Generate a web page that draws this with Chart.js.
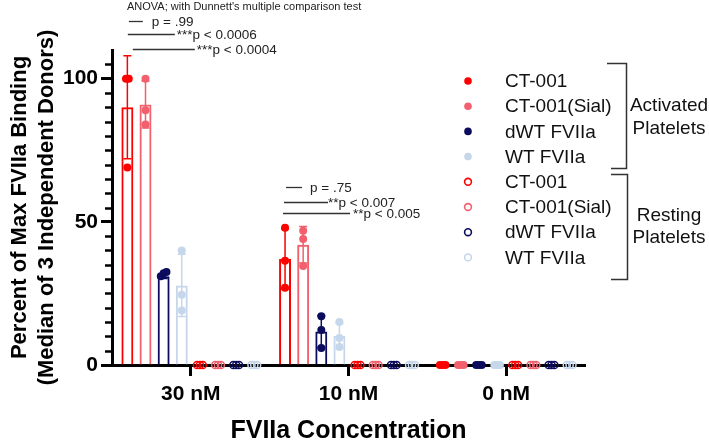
<!DOCTYPE html>
<html>
<head>
<meta charset="utf-8">
<script src="https://cdn.jsdelivr.net/npm/chart.js@4.4.1/dist/chart.umd.min.js"></script>
<style>
html,body{margin:0;padding:0;background:#fff;}
#wrap{width:709px;height:444px;}
</style>
</head>
<body>
<div id="wrap"><canvas id="c" width="709" height="444"></canvas></div>
<script>
// ---------------- DATA ----------------
const categories = ['30 nM', '10 nM', '0 nM'];
const seriesNames = ['CT-001', 'CT-001(Sial)', 'dWT FVIIa', 'WT FVIIa'];
const groupNames = ['Activated Platelets', 'Resting Platelets'];
const yTickLabels = [0, 50, 100];

// Activated platelets: bar heights
const actCT001 = [90, 37, 0];
const actSial  = [91, 42, 0];
const actDWT   = [31, 11.7, 0];
const actWT    = [27.8, 10.2, 0];
// Activated platelets: error bar half-lengths
const errCT001 = [18, 10.5, 0];
const errSial  = [8.2, 6.4, 0];
const errDWT   = [0.8, 5.6, 0];
const errWT    = [10.9, 4.4, 0];
// Activated platelets: individual donors
const ptsCT001 = [[100, 100, 69], [47.9, 36.4, 27], [0, 0, 0]];
const ptsSial  = [[100, 89, 84], [46.9, 44, 34.6], [0, 0, 0]];
const ptsDWT   = [[31, 32, 32.5], [17, 12.2, 5.9], [0, 0, 0]];
const ptsWT    = [[40, 24.5, 19], [15, 9.4, 6.3], [0, 0, 0]];

// Resting platelets: bar heights, errors, donors
const restCT001 = [0, 0, 0];
const restSial  = [0, 0, 0];
const restDWT   = [0, 0, 0];
const restWT    = [0, 0, 0];
const restErr   = [0, 0, 0];
const ptsRestCT001 = [[0, 0, 0], [0, 0, 0], [0, 0, 0]];
const ptsRestSial  = [[0, 0, 0], [0, 0, 0], [0, 0, 0]];
const ptsRestDWT   = [[0, 0, 0], [0, 0, 0], [0, 0, 0]];
const ptsRestWT    = [[0, 0, 0], [0, 0, 0], [0, 0, 0]];

// significance annotations (text)
const sig30 = ['p = .99', '***p < 0.0006', '***p < 0.0004'];
const sig10 = ['p = .75', '**p < 0.007', '**p < 0.005'];
const noteText = "ANOVA; with Dunnett's multiple comparison test";

// ---------------- STYLE ----------------
const FONT = "'Liberation Sans', Arial, Helvetica, sans-serif";
const seriesColors = ['#FF0000', '#F2606E', '#0C0C5E', '#C6D7EB'];

const actValues = [actCT001, actSial, actDWT, actWT];
const actErrs = [errCT001, errSial, errDWT, errWT];
const actPts = [ptsCT001, ptsSial, ptsDWT, ptsWT];
const restValues = [restCT001, restSial, restDWT, restWT];
const restPts = [ptsRestCT001, ptsRestSial, ptsRestDWT, ptsRestWT];

const datasets = [];
seriesNames.forEach((n, i) => datasets.push({
  label: n, group: 0, hollow: false, data: actValues[i], errors: actErrs[i], points: actPts[i],
  dotColor: seriesColors[i], borderColor: seriesColors[i], backgroundColor: 'rgba(0,0,0,0)',
  borderWidth: c => (c.raw > 0 ? 2 : 0), borderSkipped: 'start'
}));
seriesNames.forEach((n, i) => datasets.push({
  label: n, group: 1, hollow: true, data: restValues[i], errors: restErr, points: restPts[i],
  dotColor: seriesColors[i], borderColor: seriesColors[i], backgroundColor: 'rgba(0,0,0,0)',
  borderWidth: 0, borderSkipped: 'start'
}));

// Error bars + individual points
const overlay = {
  id: 'overlay',
  afterDatasetsDraw(chart) {
    const ctx = chart.ctx, ys = chart.scales.y;
    chart.data.datasets.forEach((ds, i) => {
      const meta = chart.getDatasetMeta(i);
      meta.data.forEach((bar, j) => {
        const x = bar.x, v = ds.data[j], e = ds.errors[j];
        ctx.save();
        ctx.strokeStyle = ds.dotColor;
        ctx.fillStyle = ds.dotColor;
        if (e > 0) {
          const t = ys.getPixelForValue(v + e), b = ys.getPixelForValue(v - e);
          ctx.lineWidth = 1.5;
          ctx.beginPath();
          ctx.moveTo(x, t); ctx.lineTo(x, b);
          ctx.moveTo(x - 4, t); ctx.lineTo(x + 4, t);
          ctx.moveTo(x - 4, b); ctx.lineTo(x + 4, b);
          ctx.stroke();
        }
        const py = ds.points[j].slice().sort((a, b) => a - b).map(p => ys.getPixelForValue(p));
        const clusters = [];
        let cur = [py[0]];
        for (let k = 1; k < py.length; k++) {
          if (Math.abs(py[k] - cur[cur.length - 1]) < 5) cur.push(py[k]);
          else { clusters.push(cur); cur = [py[k]]; }
        }
        clusters.push(cur);
        clusters.forEach(cl => cl.forEach((p, k) => {
          const px = x + (k - (cl.length - 1) / 2) * 2.8;
          ctx.beginPath();
          if (ds.hollow) {
            ctx.lineWidth = 1.5;
            ctx.arc(px, p, 3.6, 0, Math.PI * 2);
            ctx.stroke();
          } else {
            ctx.arc(px, p, 4, 0, Math.PI * 2);
            ctx.fill();
          }
        }));
        ctx.restore();
      });
    });
  }
};

// minor ticks, legend, brackets, annotations
const decor = {
  id: 'decor',
  afterDraw(chart) {
    const ctx = chart.ctx, ys = chart.scales.y, xs = chart.scales.x, ca = chart.chartArea;
    ctx.save();
    // minor y ticks
    ctx.strokeStyle = '#000';
    ctx.lineWidth = 2.5;
    ys.ticks.forEach(t => {
      if (yTickLabels.includes(t.value) || t.value >= ys.max) return;
      const p = Math.round(ys.getPixelForValue(t.value)) + 0.5;
      ctx.beginPath(); ctx.moveTo(ca.left - 7, p); ctx.lineTo(ca.left, p); ctx.stroke();
    });

    // legend
    const dotX = ca.right - 117, txtX = ca.right - 80;
    ctx.font = '19px ' + FONT;
    ctx.textBaseline = 'middle';
    ctx.textAlign = 'left';
    chart.data.datasets.forEach((ds, i) => {
      const yy = 81 + i * 25.2;
      ctx.beginPath();
      if (ds.hollow) {
        ctx.strokeStyle = ds.dotColor; ctx.lineWidth = 1.6;
        ctx.arc(dotX, yy, 3.4, 0, Math.PI * 2); ctx.stroke();
      } else {
        ctx.fillStyle = ds.dotColor;
        ctx.arc(dotX, yy, 3.8, 0, Math.PI * 2); ctx.fill();
      }
      ctx.fillStyle = '#111';
      ctx.fillText(ds.label, txtX, yy + 1);
    });
    // brackets
    ctx.strokeStyle = '#333'; ctx.lineWidth = 1.5;
    ctx.beginPath();
    ctx.moveTo(607, 63.5); ctx.lineTo(626.5, 63.5); ctx.lineTo(626.5, 168.5); ctx.lineTo(611, 168.5);
    ctx.moveTo(611, 174.5); ctx.lineTo(627.5, 174.5); ctx.lineTo(627.5, 279.5); ctx.lineTo(611, 279.5);
    ctx.stroke();
    ctx.fillStyle = '#111';
    ctx.textAlign = 'center';
    const [ga, gr] = groupNames.map(g => g.split(' '));
    ctx.fillText(ga[0], 669, 106); ctx.fillText(ga[1], 669, 129);
    ctx.fillText(gr[0], 669, 216); ctx.fillText(gr[1], 669, 238);

    // annotations
    ctx.textAlign = 'left';
    ctx.font = '11px ' + FONT;
    ctx.fillStyle = '#222';
    ctx.fillText(noteText, 127, 6.5);
    ctx.font = '13.5px ' + FONT;
    ctx.strokeStyle = '#333'; ctx.lineWidth = 1.3;
    const lay = [
      {cat: 0, txt: sig30, yv: [120, 115.7, 110.5], x0: [-62, -63, -58], x1: [-48, -16, 4], tx: [-39, -14, 6]},
      {cat: 1, txt: sig10, yv: [62.3, 57, 53], x0: [-62.5, -64.5, -65.5], x1: [-46.5, -20.5, 1.5], tx: [-38.5, -20.5, 4.5]}
    ];
    lay.forEach(L => {
      const cx = xs.getPixelForValue(L.cat);
      L.txt.forEach((t, k) => {
        const yy = Math.round(ys.getPixelForValue(L.yv[k])) + 0.5;
        ctx.beginPath(); ctx.moveTo(cx + L.x0[k], yy); ctx.lineTo(cx + L.x1[k], yy); ctx.stroke();
        ctx.fillText(t, cx + L.tx[k], yy + 0.5);
      });
    });
    ctx.restore();
  }
};

new Chart(document.getElementById('c'), {
  type: 'bar',
  data: {labels: categories, datasets: datasets},
  options: {
    responsive: false,
    animation: false,
    devicePixelRatio: 1,
    layout: {padding: {top: 50, right: 124, left: 0, bottom: 0}},
    datasets: {bar: {barPercentage: 0.66, categoryPercentage: 0.92}},
    plugins: {legend: {display: false}, tooltip: {enabled: false}},
    scales: {
      x: {
        offset: true,
        grid: {display: true, drawOnChartArea: false, drawTicks: true, tickLength: 11, tickWidth: 3, tickColor: '#000', offset: false},
        border: {display: true, color: '#000', width: 3},
        ticks: {color: '#000', padding: 6, font: {family: FONT, size: 21, weight: 'bold'}},
        title: {display: true, text: 'FVIIa Concentration', color: '#000', padding: {top: 0, bottom: 0},
                font: {family: FONT, size: 25, weight: 'bold', lineHeight: 1}},
        afterFit: s => { s.height = 79; }
      },
      y: {
        min: 0, max: 110,
        ticks: {stepSize: 5, autoSkip: false, color: '#000', padding: 3,
                font: {family: FONT, size: 21, weight: 'bold'},
                callback: v => (yTickLabels.includes(v) ? String(v) : '')},
        grid: {display: true, drawOnChartArea: false, drawTicks: true, tickLength: 11, tickWidth: 3,
               tickColor: c => (c.tick && yTickLabels.includes(c.tick.value) ? '#000' : 'rgba(0,0,0,0)')},
        border: {display: true, color: '#000', width: 3},
        title: {display: true, text: ['Percent of Max FVIIa Binding', '(Median of 3 Independent Donors)'],
                color: '#000', padding: {top: 7, bottom: 0},
                font: {family: FONT, size: 22, weight: 'bold'}},
        afterFit: s => { s.width = 112; }
      }
    }
  },
  plugins: [overlay, decor]
});
</script>
</body>
</html>
